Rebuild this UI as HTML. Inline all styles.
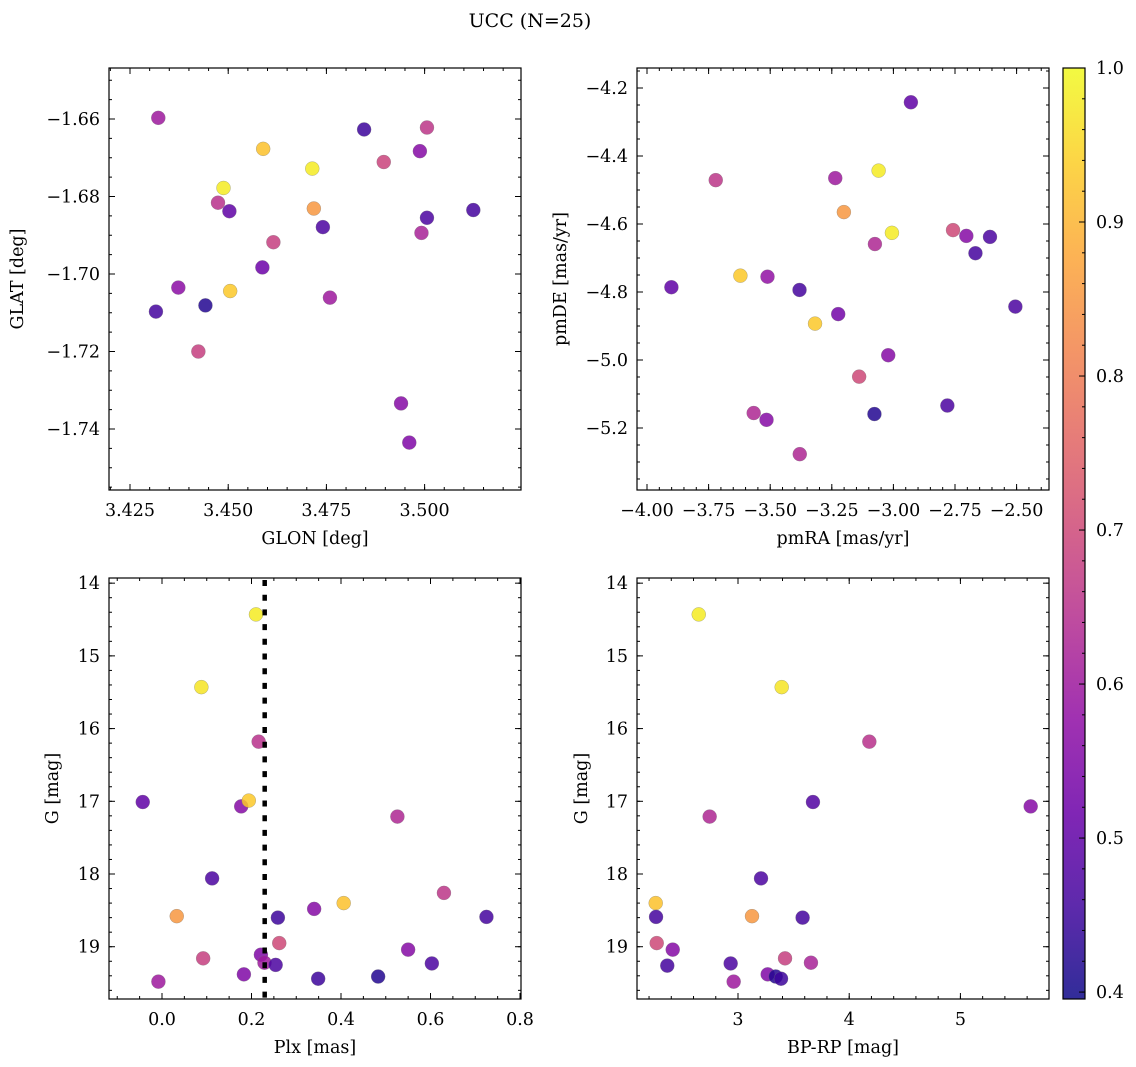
<!DOCTYPE html>
<html>
<head>
<meta charset="utf-8">
<style>
  html,body{margin:0;padding:0;background:#fff;}
  svg{display:block;}
  text{font-family:"DejaVu Serif","Liberation Serif",serif;fill:#000;}
</style>
</head>
<body>
<svg id="fig" width="1136" height="1067" viewBox="0 0 1136 1067" xmlns="http://www.w3.org/2000/svg">
  <rect x="0" y="0" width="1136" height="1067" fill="#fff"/>
  <text x="530" y="27" font-size="19" text-anchor="middle">UCC (N=25)</text>
</svg>
<script>
// ---------- Panel 1: GLON vs GLAT ----------
const p1x = [3.4322,3.4846,3.5006,3.4589,3.4714,3.4896,3.4988,3.4488,3.4474,3.4503,3.4718,3.5124,3.5006,3.4741,3.4992,3.4615,3.4587,3.4373,3.4505,3.4759,3.4442,3.4316,3.4424,3.4940,3.4961];
const p1y = [-1.6597,-1.6627,-1.6622,-1.6677,-1.6728,-1.6711,-1.6683,-1.6778,-1.6816,-1.6838,-1.6831,-1.6835,-1.6855,-1.6879,-1.6894,-1.6918,-1.6983,-1.7035,-1.7044,-1.7061,-1.7081,-1.7097,-1.7200,-1.7334,-1.7435];
const p1c = [0.60,0.45,0.66,0.92,0.98,0.69,0.56,0.98,0.65,0.50,0.85,0.46,0.47,0.47,0.62,0.68,0.52,0.57,0.93,0.60,0.42,0.46,0.68,0.56,0.55];
const p1xTicks = [3.425,3.450,3.475,3.500];
const p1xLabels = ["3.425","3.450","3.475","3.500"];
const p1yTicks = [-1.66,-1.68,-1.70,-1.72,-1.74];
const p1yLabels = ["\u22121.66","\u22121.68","\u22121.70","\u22121.72","\u22121.74"];

// ---------- Panel 2: pmRA vs pmDE ----------
const p2x = [-2.929,-3.721,-3.236,-3.060,-3.201,-3.006,-3.075,-2.758,-2.704,-2.608,-2.667,-3.901,-3.621,-3.511,-3.381,-3.318,-3.224,-2.505,-3.021,-3.139,-3.567,-3.515,-3.077,-2.781,-3.380];
const p2y = [-4.242,-4.471,-4.465,-4.443,-4.565,-4.626,-4.659,-4.618,-4.635,-4.638,-4.686,-4.786,-4.752,-4.755,-4.794,-4.893,-4.865,-4.843,-4.986,-5.049,-5.156,-5.176,-5.159,-5.134,-5.277];
const p2c = [0.50,0.66,0.60,0.98,0.85,0.98,0.63,0.70,0.56,0.47,0.46,0.50,0.93,0.58,0.46,0.93,0.53,0.47,0.56,0.70,0.63,0.56,0.42,0.47,0.63];
const p2xTicks = [-4.00,-3.75,-3.50,-3.25,-3.00,-2.75,-2.50];
const p2xLabels = ["\u22124.00","\u22123.75","\u22123.50","\u22123.25","\u22123.00","\u22122.75","\u22122.50"];
const p2yTicks = [-4.2,-4.4,-4.6,-4.8,-5.0,-5.2];
const p2yLabels = ["\u22124.2","\u22124.4","\u22124.6","\u22124.8","\u22125.0","\u22125.2"];

// ---------- Panel 3: Plx vs G ----------
const p3x = [0.210,0.088,0.216,-0.043,0.177,0.194,0.526,0.112,0.630,0.406,0.340,0.033,0.259,0.725,0.262,0.550,0.092,0.221,0.229,0.254,0.603,0.183,0.483,0.349,-0.008];
const p3y = [14.43,15.43,16.18,17.01,17.07,16.99,17.21,18.06,18.26,18.40,18.48,18.58,18.60,18.59,18.95,19.04,19.16,19.11,19.22,19.25,19.23,19.38,19.41,19.44,19.48];
const p3c = [0.98,0.97,0.65,0.50,0.56,0.93,0.63,0.47,0.66,0.92,0.56,0.85,0.45,0.46,0.70,0.56,0.68,0.55,0.60,0.47,0.47,0.55,0.42,0.45,0.60];
const p3xTicks = [0.0,0.2,0.4,0.6,0.8];
const p3xLabels = ["0.0","0.2","0.4","0.6","0.8"];
const p3yTicks = [14,15,16,17,18,19];
const p3yLabels = ["14","15","16","17","18","19"];
const plxLine = [0.2295];

// ---------- Panel 4: BP-RP vs G ----------
const p4x = [2.647,3.393,4.181,3.674,5.632,2.745,3.207,2.260,2.263,3.126,3.581,2.269,2.413,3.423,3.656,2.364,2.934,3.267,3.339,3.387,2.961];
const p4y = [14.43,15.43,16.18,17.01,17.07,17.21,18.06,18.40,18.59,18.58,18.60,18.95,19.04,19.16,19.22,19.26,19.23,19.38,19.41,19.44,19.48];
const p4c = [0.98,0.97,0.65,0.48,0.56,0.63,0.47,0.92,0.46,0.85,0.46,0.70,0.56,0.68,0.62,0.46,0.47,0.55,0.42,0.45,0.60];
const p4xTicks = [3,4,5];
const p4xLabels = ["3","4","5"];
const p4yTicks = [14,15,16,17,18,19];
const p4yLabels = ["14","15","16","17","18","19"];

// ---------- Colorbar ----------
const cbTicks = [0.4,0.5,0.6,0.7,0.8,0.9,1.0];
const cbLabels = ["0.4","0.5","0.6","0.7","0.8","0.9","1.0"];
const cbMin = 0.3955, cbMax = 1.0;

const NS = "http://www.w3.org/2000/svg";
const svg = document.getElementById('fig');
function el(tag, attrs, parent){
  const e = document.createElementNS(NS, tag);
  for (const k in attrs) e.setAttribute(k, attrs[k]);
  (parent||svg).appendChild(e);
  return e;
}
const plasmaStops = [[0.0,[13,8,135]],[0.1,[65,4,157]],[0.2,[106,0,168]],[0.3,[143,13,164]],[0.4,[177,42,144]],[0.5,[204,71,120]],[0.6,[225,100,98]],[0.7,[242,132,75]],[0.8,[252,166,54]],[0.9,[252,206,37]],[1.0,[240,249,33]]];
function plasma(t){
  t = Math.max(0, Math.min(1, t));
  for (let i=0;i<plasmaStops.length-1;i++){
    const a=plasmaStops[i], b=plasmaStops[i+1];
    if (t<=b[0]){
      const f=(t-a[0])/(b[0]-a[0]);
      const c=a[1].map((v,j)=>Math.round(v+(b[1][j]-v)*f));
      return `rgb(${c[0]},${c[1]},${c[2]})`;
    }
  }
  return 'rgb(240,249,33)';
}
function cnorm(v){ return (v-cbMin)/(cbMax-cbMin); }

const FS = 17.5;
function panel(cfg){
  const g = el('g', {});
  
  
  const {L,T,R,B} = cfg.box;
  const sx = v => L + (v-cfg.xd[0])/(cfg.xd[1]-cfg.xd[0])*(R-L);
  const sy = v => T + (v-cfg.yd[0])/(cfg.yd[1]-cfg.yd[0])*(B-T);
  const pg = el('g', {}, g);
  
  
  for (let i=0;i<cfg.x.length;i++){
    const c = el('circle', {cx:sx(cfg.x[i]), cy:sy(cfg.y[i]), r:7, fill:plasma(cnorm(cfg.c[i])), 'fill-opacity':0.85, stroke:'#777', 'stroke-width':0.4, 'stroke-opacity':0.7}, pg);
    
    
  }
  if (cfg.vline){
    for (const v of cfg.vline){
      const ln = el('line', {x1:sx(v), x2:sx(v), y1:T+2, y2:B, stroke:'#000', 'stroke-width':4.5, 'stroke-dasharray':'6 8.7'}, g);
      
      
    }
  }
  const fr = el('rect', {x:L, y:T, width:R-L, height:B-T, fill:'none', stroke:'#000', 'stroke-width':1.2}, g);
  
  
  const tg = el('g', {stroke:'#000', 'stroke-width':1}, g);
  const xmin = Math.min(...cfg.xd), xmax = Math.max(...cfg.xd);
  const ymin = Math.min(...cfg.yd), ymax = Math.max(...cfg.yd);
  for (let v=Math.ceil(xmin/cfg.xm-1e-6)*cfg.xm; v<=xmax+1e-9; v+=cfg.xm){
    const X=sx(v);
    el('line',{x1:X,x2:X,y1:B,y2:B-3},tg); el('line',{x1:X,x2:X,y1:T,y2:T+3},tg);
  }
  for (let v=Math.ceil(ymin/cfg.ym-1e-6)*cfg.ym; v<=ymax+1e-9; v+=cfg.ym){
    const Y=sy(v);
    el('line',{x1:L,x2:L+3,y1:Y,y2:Y},tg); el('line',{x1:R,x2:R-3,y1:Y,y2:Y},tg);
  }
  cfg.xt.forEach((v,i)=>{
    const X=sx(v);
    el('line',{x1:X,x2:X,y1:B,y2:B-6},tg); el('line',{x1:X,x2:X,y1:T,y2:T+6},tg);
    const t = el('text',{x:X, y:B+26, 'font-size':FS, 'text-anchor':'middle'}, g);
    t.textContent = cfg.xl[i];
    
    
  });
  cfg.yt.forEach((v,i)=>{
    const Y=sy(v);
    el('line',{x1:L,x2:L+6,y1:Y,y2:Y},tg); el('line',{x1:R,x2:R-6,y1:Y,y2:Y},tg);
    const t = el('text',{x:L-9, y:Y+6, 'font-size':FS, 'text-anchor':'end'}, g);
    t.textContent = cfg.yl[i];
    
    
  });
  const xt = el('text',{x:(L+R)/2, y:B+54, 'font-size':FS, 'text-anchor':'middle'}, g);
  xt.textContent = cfg.xlabel;
  
  
  const yt = el('text',{x:0, y:0, 'font-size':FS, 'text-anchor':'middle', transform:`translate(${cfg.ylx},${(T+B)/2}) rotate(-90)`}, g);
  yt.textContent = cfg.ylabel;
  
  
}

panel({name:'glon-glat-panel', box:{L:109,T:68,R:521,B:490}, xd:[3.41965,3.52454], yd:[-1.64684,-1.75574],
  x:p1x, y:p1y, c:p1c, xt:p1xTicks, xl:p1xLabels, yt:p1yTicks, yl:p1yLabels, xm:0.005, ym:0.005,
  xlabel:'GLON [deg]', ylabel:'GLAT [deg]', ylx:23});
panel({name:'propermotion-panel', box:{L:637,T:68,R:1049,B:490}, xd:[-4.0406,-2.3685], yd:[-4.1412,-5.3824],
  x:p2x, y:p2y, c:p2c, xt:p2xTicks, xl:p2xLabels, yt:p2yTicks, yl:p2yLabels, xm:0.05, ym:0.05,
  xlabel:'pmRA [mas/yr]', ylabel:'pmDE [mas/yr]', ylx:566});
panel({name:'plx-g-panel', box:{L:109,T:578,R:521,B:999}, xd:[-0.1184,0.8022], yd:[13.929,19.719],
  x:p3x, y:p3y, c:p3c, xt:p3xTicks, xl:p3xLabels, yt:p3yTicks, yl:p3yLabels, xm:0.05, ym:0.2,
  xlabel:'Plx [mas]', ylabel:'G [mag]', ylx:58, vline:plxLine});
panel({name:'cmd-panel', box:{L:637,T:578,R:1049,B:999}, xd:[2.0917,5.7967], yd:[13.929,19.719],
  x:p4x, y:p4y, c:p4c, xt:p4xTicks, xl:p4xLabels, yt:p4yTicks, yl:p4yLabels, xm:0.2, ym:0.2,
  xlabel:'BP-RP [mag]', ylabel:'G [mag]', ylx:587});

(function(){
  const L=1063, R=1085, T=68, B=999;
  const defs = el('defs',{});
  const lg = el('linearGradient',{id:'cbgrad', x1:0, y1:1, x2:0, y2:0}, defs);
  for (let i=0;i<=20;i++){
    const f=i/20;
    const v = cbMin + f*(cbMax-cbMin);
    el('stop',{offset:f, 'stop-color':plasma(cnorm(v)), 'stop-opacity':0.85}, lg);
  }
  const g = el('g',{});
  
  
  el('rect',{x:L,y:T,width:R-L,height:B-T,fill:'url(#cbgrad)',stroke:'#000','stroke-width':1.2},g);
  const sy = v => B - (v-cbMin)/(cbMax-cbMin)*(B-T);
  const tg = el('g',{stroke:'#000','stroke-width':1},g);
  for (let v=0.40; v<=1.0001; v+=0.02){
    const Y=sy(v); el('line',{x1:R,x2:R-3,y1:Y,y2:Y},tg);
  }
  cbTicks.forEach((v,i)=>{
    const Y=sy(v);
    el('line',{x1:R,x2:R-6,y1:Y,y2:Y},tg);
    const t = el('text',{x:R+11, y:Y+6, 'font-size':FS}, g);
    t.textContent = cbLabels[i];
    
    
  });
})();
</script>
</body>
</html>
